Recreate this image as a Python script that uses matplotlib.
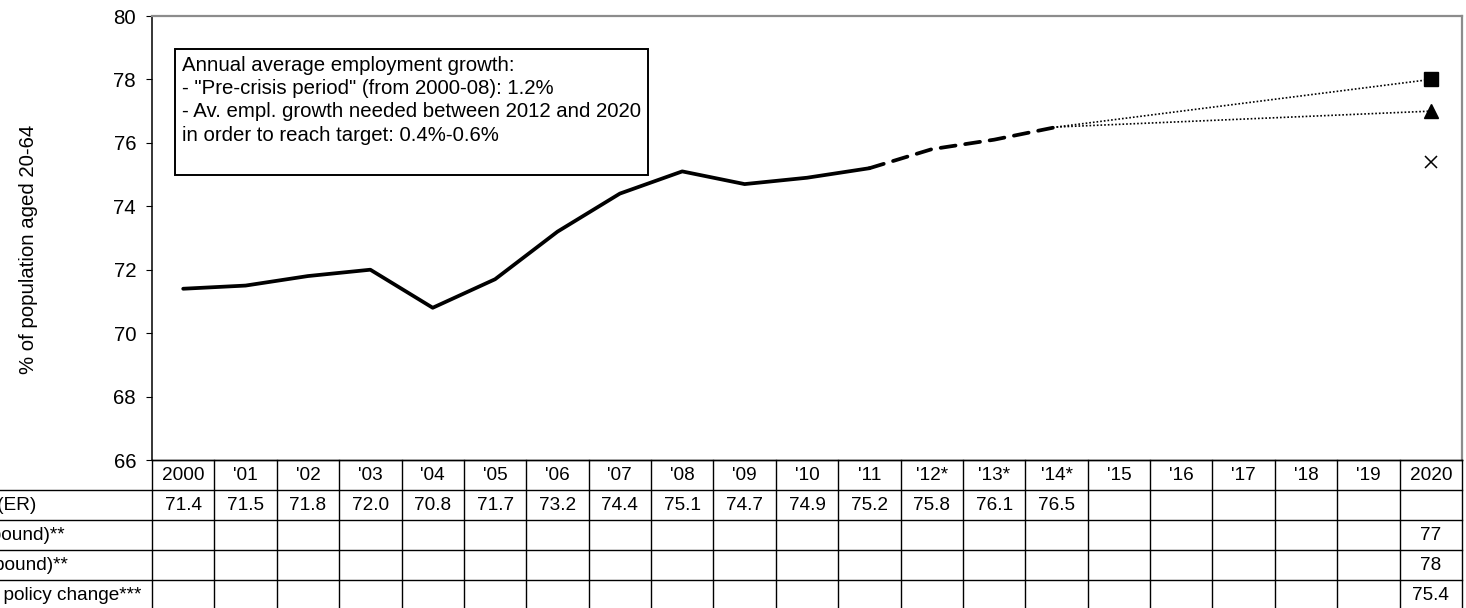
import matplotlib.pyplot as plt
import numpy as np

plt.rcParams['font.family'] = ['Liberation Sans', 'DejaVu Sans']

# Data
years = ["2000", "'01", "'02", "'03", "'04", "'05", "'06", "'07", "'08", "'09", "'10",
         "'11", "'12*", "'13*", "'14*", "'15", "'16", "'17", "'18", "'19", "2020"]
employment_rate = [71.4, 71.5, 71.8, 72.0, 70.8, 71.7, 73.2, 74.4, 75.1, 74.7, 74.9,
                   75.2, 75.8, 76.1, 76.5]
target_lower = 77
target_upper = 78
no_policy_change = 75.4

row_labels = ["Employment rate (ER)", "ER target (lower bound)**", "ER target (upper bound)**",
              "Projection with no policy change***"]

box_text = ('Annual average employment growth:\n'
            '- "Pre-crisis period" (from 2000-08): 1.2%\n'
            '- Av. empl. growth needed between 2012 and 2020\n'
            'in order to reach target: 0.4%-0.6%\n'
            ' ')

FS = 14.7      # axis / box text
FS_TAB = 13.7  # table text
W, H = 1466, 608

fig = plt.figure(figsize=(W / 100, H / 100), dpi=100)
ax = fig.add_axes([152 / W, (H - 460) / H, (1462 - 152) / W, (460 - 16) / H])

x = np.arange(len(years))
n_actual = 12  # observed up to '11, forecasts after
last = len(employment_rate) - 1

ax.plot(x[:n_actual], employment_rate[:n_actual], color='black', lw=2.7,
        solid_capstyle='round', solid_joinstyle='round')
ax.plot(x[n_actual - 1:last + 1], employment_rate[n_actual - 1:], color='black', lw=2.7,
        linestyle=(0, (4.0, 2.6)), dash_capstyle='round')

# projections to 2020
for target in (target_upper, target_lower):
    ax.plot([x[last], x[-1]], [employment_rate[-1], target], color='black', lw=1.2,
            linestyle=(0, (1, 1.2)))
ax.plot(x[-1], target_upper, marker='s', color='black', markersize=10.5, linestyle='none')
ax.plot(x[-1], target_lower, marker='^', color='black', markersize=10.5, linestyle='none')
ax.plot(x[-1], no_policy_change, marker='x', color='black', markersize=9, mew=1.1,
        linestyle='none')

ax.set_xlim(-0.5, len(years) - 0.5)
ax.set_ylim(66, 80)
ax.set_yticks(np.arange(66, 81, 2))
ax.set_xticks([])
ax.tick_params(axis='y', labelsize=FS, direction='out', length=4.5, width=0.8, pad=7)
ax.set_ylabel('% of population aged 20-64', fontsize=FS)
ax.yaxis.set_label_coords(-0.0867, 0.475)
for side in ('top', 'right'):
    ax.spines[side].set_color('#8c8c8c')
    ax.spines[side].set_linewidth(1.6)
ax.spines['left'].set_linewidth(1.1)
ax.spines['bottom'].set_linewidth(1.0)

ax.text(0.0229, 0.911, box_text, transform=ax.transAxes, fontsize=FS, va='top', ha='left',
        linespacing=1.29,
        bbox=dict(boxstyle='square,pad=0.33', facecolor='white', edgecolor='black', lw=1.4))

# data table under the chart
tax = fig.add_axes([152 / W, (H - 610) / H, (1462 - 152) / W, 150 / H])
tax.set_xlim(-0.5, len(years) - 0.5)
tax.set_ylim(5, 0)
tax.axis('off')

label_left = -5.46
for i in range(len(years) + 1):
    tax.plot([i - 0.5, i - 0.5], [0, 5], color='black', lw=1.0, clip_on=False)
tax.plot([-0.5, len(years) - 0.5], [0, 0], color='black', lw=1.0, clip_on=False)
for r in range(1, 5):
    tax.plot([label_left, len(years) - 0.5], [r, r], color='black', lw=1.0, clip_on=False)

for i, yr in enumerate(years):
    tax.text(i, 0.5, yr, ha='center', va='center', fontsize=FS_TAB)
for i, v in enumerate(employment_rate):
    tax.text(i, 1.5, f'{v:.1f}', ha='center', va='center', fontsize=FS_TAB)
tax.text(x[-1], 2.5, f'{target_lower:g}', ha='center', va='center', fontsize=FS_TAB)
tax.text(x[-1], 3.5, f'{target_upper:g}', ha='center', va='center', fontsize=FS_TAB)
tax.text(x[-1], 4.5, f'{no_policy_change:.1f}', ha='center', va='center', fontsize=FS_TAB)

for r, lab in enumerate(row_labels):
    tax.text(label_left + 0.11, r + 1.5, lab, ha='left', va='center', fontsize=FS_TAB,
             clip_on=False)

fig.savefig('out.png', dpi=100)
